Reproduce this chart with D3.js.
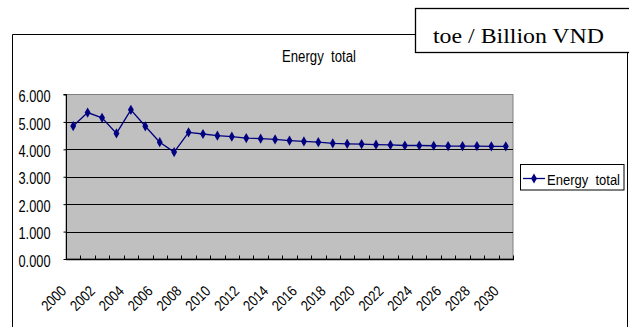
<!DOCTYPE html>
<html><head><meta charset="utf-8">
<script src="https://cdn.jsdelivr.net/npm/d3@7/dist/d3.min.js"></script>
<style>
html,body{margin:0;padding:0;background:#fff;}
svg{display:block;}
.nar{font-family:"Liberation Sans",Arial,sans-serif;}
</style></head>
<body>
<svg id="c" width="629" height="327"></svg>
<script>
const years = d3.range(2000, 2031).map(String);
const energyTotal = [4.85,5.34,5.15,4.58,5.44,4.84,4.26,3.90,4.62,4.56,4.50,4.46,4.41,4.39,4.36,4.32,4.29,4.26,4.22,4.20,4.19,4.17,4.16,4.14,4.14,4.13,4.12,4.12,4.12,4.11,4.11];
const yTicks = [0,1,2,3,4,5,6];
const xLabels = years.filter((d,i)=>i%2===0);
const seriesName = "Energy  total";
const unitLabel = "toe / Billion VND";

const svg = d3.select("#c");
const L=66, R=513, T=94.5, B=259;
const x = d3.scaleBand().domain(years).range([L,R]).padding(0);
const y = d3.scaleLinear().domain([0,6]).range([B,T]);

// outer frame
svg.append("path").attr("d",`M12.5,400 V34.5 H416 M627.5,52 V400`).attr("fill","none").attr("stroke","#000").attr("stroke-width",1);

// unit box
svg.append("rect").attr("x",415.5).attr("y",8.5).attr("width",240).attr("height",44).attr("fill","#fff").attr("stroke","#000").attr("stroke-width",1.3);
svg.append("text").attr("x",433).attr("y",43).attr("font-family","Liberation Serif, Times New Roman, serif").attr("font-size",22)
  .attr("textLength",171).attr("lengthAdjust","spacingAndGlyphs").text(unitLabel);

// title
svg.append("text").attr("class","nar").attr("x",282).attr("y",62).attr("font-size",16)
  .attr("textLength",74).attr("lengthAdjust","spacingAndGlyphs").style("white-space","pre").text(seriesName);

// plot area
svg.append("rect").attr("x",L).attr("y",T).attr("width",R-L).attr("height",B-T).attr("fill","#c0c0c0").attr("stroke","#808080").attr("stroke-width",1);

// gridlines
svg.append("g").selectAll("line").data(yTicks.filter(d=>d>0&&d<6)).join("line")
  .attr("x1",L).attr("x2",R).attr("y1",d=>Math.round(y(d))+0.5).attr("y2",d=>Math.round(y(d))+0.5)
  .attr("stroke","#000").attr("stroke-width",1);

// y axis
const ya = svg.append("g").attr("transform",`translate(${L+0.5},0)`).call(d3.axisLeft(y).tickValues(yTicks).tickSize(3).tickPadding(13).tickFormat(d3.format(".3f")));
ya.select(".domain").attr("stroke","#000").attr("d",`M-3,${T}H0V${B}`);
ya.selectAll(".tick line").attr("stroke","#000");
ya.selectAll("text").attr("class","nar").attr("font-size",17).attr("fill","#000").attr("dy","0.42em")
  .attr("textLength",32).attr("lengthAdjust","spacingAndGlyphs");

// x axis with boundary ticks
const xa = svg.append("g").attr("transform",`translate(0,${B+0.5})`);
xa.append("line").attr("x1",L).attr("x2",R+1).attr("stroke","#000").attr("stroke-width",1.3);
xa.selectAll("line.t").data(d3.range(years.length+1)).join("line").attr("class","t")
  .attr("x1",i=>Math.round(L+i*x.step())+0.5).attr("x2",i=>Math.round(L+i*x.step())+0.5)
  .attr("y1",0).attr("y2",-4).attr("stroke","#000");
const xlab = d3.axisBottom(x).tickValues(xLabels).tickSize(0).tickPadding(0);
const xg = svg.append("g").attr("transform",`translate(0,${B})`).call(xlab);
xg.select(".domain").remove();
xg.selectAll("text").attr("class","nar").attr("font-size",15).attr("fill","#000")
  .attr("text-anchor","end").attr("dy","0").attr("y",0)
  .attr("textLength",28).attr("lengthAdjust","spacingAndGlyphs")
  .attr("transform","translate(-6,33) rotate(-45)");

// line
const line = d3.line().x((d,i)=>x(years[i])+x.bandwidth()/2).y(d=>y(d));
svg.append("path").datum(energyTotal).attr("d",line).attr("fill","none").attr("stroke","#000080").attr("stroke-width",1.3);
const diamond = d3.symbol().type(d3.symbolDiamond).size(30);
svg.append("g").selectAll("path").data(energyTotal).join("path")
  .attr("transform",(d,i)=>`translate(${x(years[i])+x.bandwidth()/2},${y(d)})`)
  .attr("d",diamond).attr("fill","#000080");

// legend
const lg = svg.append("g");
lg.append("rect").attr("x",520.5).attr("y",164.5).attr("width",103.5).attr("height",25.5).attr("fill","#fff").attr("stroke","#000").attr("stroke-width",1);
lg.append("line").attr("x1",523).attr("x2",545).attr("y1",178.5).attr("y2",178.5).attr("stroke","#000080").attr("stroke-width",1.3);
lg.append("path").attr("transform","translate(534,178.5)").attr("d",diamond).attr("fill","#000080");
lg.append("text").attr("class","nar").attr("transform","translate(547,184.5) scale(0.84,1)").attr("font-size",15.5)
  .style("white-space","pre").text(seriesName);
</script>
</body></html>
